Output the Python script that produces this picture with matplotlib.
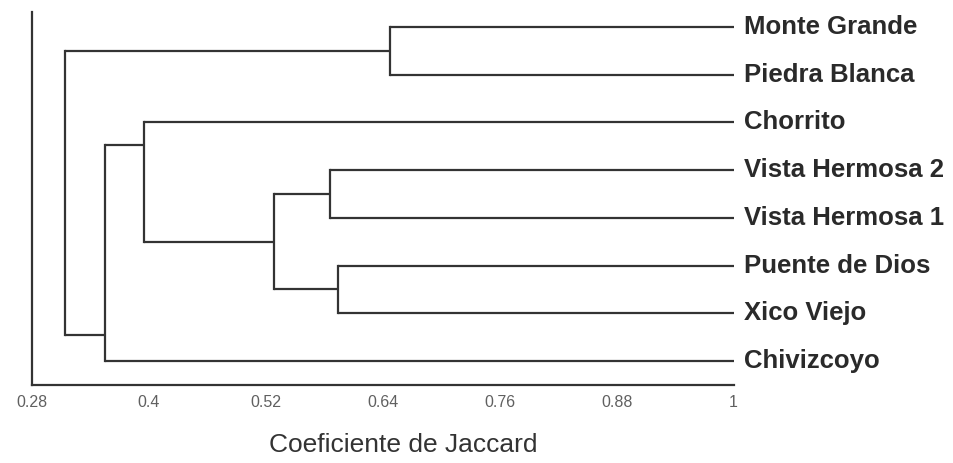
import numpy as np
import matplotlib
matplotlib.use('Agg')
import matplotlib.pyplot as plt

# leaves, top to bottom
sites = ['Monte Grande', 'Piedra Blanca', 'Chorrito', 'Vista Hermosa 2',
         'Vista Hermosa 1', 'Puente de Dios', 'Xico Viejo', 'Chivizcoyo']

# merges: (child a, child b, similarity); new node ids start at 8
merge_a = [0, 3, 5, 9, 2, 12, 8]
merge_b = [1, 4, 6, 10, 11, 7, 13]
merge_sim = [0.647, 0.586, 0.594, 0.528, 0.395, 0.355, 0.314]

ticks = [0.28, 0.4, 0.52, 0.64, 0.76, 0.88, 1]
tick_labels = ['0.28', '0.4', '0.52', '0.64', '0.76', '0.88', '1']

# where the parent line joins the vertical bar (fraction from top child), like PAST draws it
attach = {12: 0.19, 13: 0.88}

line_col = '#333333'
lw = 1.6

fig = plt.figure(figsize=(9.54, 4.63), dpi=100)
ax = fig.add_axes([0.0335, 0.1685, 0.7355, 0.8055])

n = len(sites)
ypos = {i: float(i) for i in range(n)}
xpos = {i: 1.0 for i in range(n)}

for k, (a, b, s) in enumerate(zip(merge_a, merge_b, merge_sim)):
    node = n + k
    ya, yb = ypos[a], ypos[b]
    # horizontal lines from children to this node
    ax.plot([s, xpos[a]], [ya, ya], color=line_col, lw=lw, solid_capstyle='butt')
    ax.plot([s, xpos[b]], [yb, yb], color=line_col, lw=lw, solid_capstyle='butt')
    ax.plot([s, s], [ya, yb], color=line_col, lw=lw, solid_capstyle='projecting')
    f = attach.get(node, 0.5)
    ypos[node] = ya + f * (yb - ya)
    xpos[node] = s

for i, name in enumerate(sites):
    ax.text(1.011, i, name, fontsize=18.5, fontweight='bold', color='#2a2a2a',
            va='center', ha='left', family='Liberation Sans', clip_on=False)

ax.set_xlim(0.28, 1.0)
ax.set_ylim(7.5, -0.31)
ax.spines['top'].set_visible(False)
ax.spines['right'].set_visible(False)
ax.spines['left'].set_linewidth(1.6)
ax.spines['bottom'].set_linewidth(1.6)
ax.spines['left'].set_color(line_col)
ax.spines['bottom'].set_color(line_col)
ax.set_yticks([])
ax.set_xticks(ticks)
ax.set_xticklabels(tick_labels, fontsize=11.5, color='#606060', family='Liberation Sans')
ax.tick_params(axis='x', length=0, pad=7)

fig.text(0.4225, 0.039, 'Coeficiente de Jaccard', fontsize=19, color='#333333',
         ha='center', va='center', family='Liberation Sans')

fig.savefig('out.png', dpi=100)
